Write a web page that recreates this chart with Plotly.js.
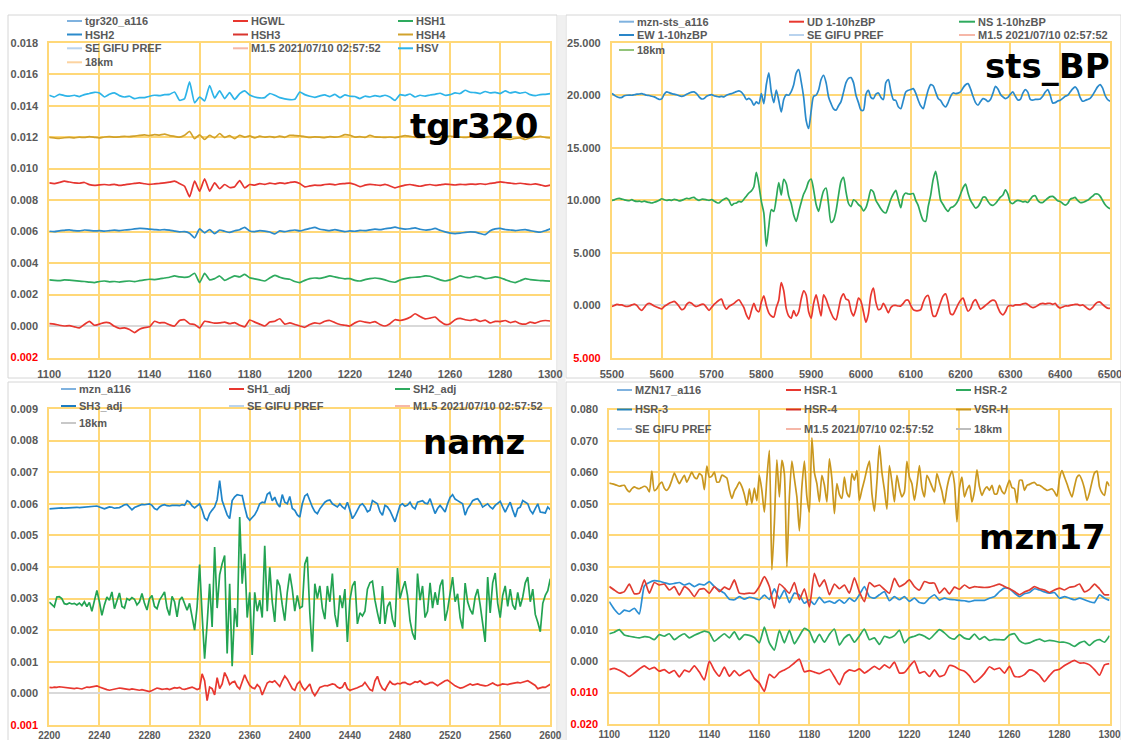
<!DOCTYPE html>
<html>
<head>
<meta charset="utf-8">
<script src="https://cdn.plot.ly/plotly-3.0.1.min.js"></script>
<style>html,body{margin:0;padding:0;background:#fff;}#chart{width:1121px;height:740px;}</style>
</head>
<body>
<div id="chart"></div>
<script>
// ---------------- DATA ----------------
// Panel 1: tgr320 (x from 1100, step 2)
const tlX0 = 1100, tlDx = 2;
const tlXTicks = [1100,1120,1140,1160,1180,1200,1220,1240,1260,1280,1300];
const tlXText = ['1100','1120','1140','1160','1180','1200','1220','1240','1260','1280','1300'];
const tlYTicks = [-0.002,0,0.002,0.004,0.006,0.008,0.010,0.012,0.014,0.016,0.018];
const tlYText = ['<span style="color:#FF0000">0.002</span>','0.000','0.002','0.004','0.006','0.008','0.010','0.012','0.014','0.016','0.018'];
const tlHSV = [0.01466,0.01455,0.01472,0.01464,0.0146,0.01466,0.01458,0.0147,0.01477,0.01485,
0.01481,0.01455,0.01472,0.01481,0.01464,0.01455,0.0146,0.01445,0.01451,0.01451,
0.0146,0.01466,0.01464,0.0147,0.01472,0.01487,0.01434,0.01445,0.01551,0.01419,
0.01455,0.0143,0.01528,0.01449,0.01494,0.01445,0.01483,0.0144,0.01477,0.01494,
0.01468,0.01455,0.01449,0.01451,0.01477,0.01466,0.01451,0.01443,0.01438,0.0144,
0.01487,0.0147,0.0146,0.01453,0.01462,0.01468,0.01458,0.01472,0.01451,0.01468,
0.0146,0.01458,0.01445,0.0146,0.01455,0.01464,0.01458,0.01466,0.01455,0.01434,
0.0147,0.01464,0.01474,0.01455,0.01466,0.0146,0.01468,0.01472,0.01479,0.01466,
0.0147,0.01481,0.01477,0.01498,0.01485,0.01483,0.01477,0.0149,0.01481,0.01485,
0.01477,0.01494,0.01481,0.01487,0.01479,0.01485,0.0147,0.01464,0.0147,0.01472,
0.01477];
const tlHSH4 = [0.01198,0.01195,0.01192,0.01196,0.01198,0.01195,0.012,0.01198,0.01203,0.01199,
0.01195,0.01201,0.01203,0.012,0.01202,0.01205,0.01203,0.01207,0.01211,0.01214,
0.0121,0.01216,0.01213,0.01219,0.0121,0.01205,0.012,0.01212,0.01236,0.0119,
0.01215,0.01185,0.01212,0.01195,0.01223,0.01198,0.0121,0.0119,0.01212,0.012,
0.01208,0.01195,0.01206,0.012,0.01204,0.01198,0.01207,0.01199,0.01212,0.0121,
0.01208,0.01203,0.01198,0.01202,0.012,0.01197,0.01203,0.012,0.01204,0.01216,
0.01212,0.012,0.01203,0.01198,0.01212,0.01202,0.012,0.01198,0.01201,0.01197,
0.01203,0.0121,0.01205,0.012,0.01196,0.012,0.01205,0.01202,0.01199,0.01203,
0.01207,0.01202,0.012,0.01198,0.01202,0.01205,0.012,0.01196,0.012,0.01203,
0.01198,0.0119,0.01186,0.01192,0.01195,0.01185,0.01196,0.012,0.01205,0.01198,
0.01195];
const tlHSH3 = [0.00909,0.00905,0.00912,0.0092,0.00915,0.0091,0.00907,0.00912,0.00898,0.00893,
0.00897,0.00899,0.00896,0.009,0.00893,0.00897,0.00902,0.00906,0.00909,0.00904,
0.009,0.00903,0.00906,0.0091,0.00914,0.0092,0.00905,0.00888,0.00821,0.0092,
0.00857,0.00935,0.00857,0.00909,0.00872,0.00899,0.0088,0.00885,0.00924,0.00878,
0.00899,0.00895,0.00905,0.009,0.00908,0.00903,0.0091,0.00905,0.00912,0.00916,
0.00905,0.00884,0.0089,0.00895,0.00893,0.00899,0.00902,0.00897,0.00903,0.00905,
0.00908,0.00899,0.00885,0.00895,0.009,0.00897,0.00893,0.009,0.0089,0.00878,
0.00887,0.00895,0.00899,0.00893,0.00888,0.00895,0.00899,0.00893,0.00897,0.00902,
0.00899,0.00896,0.009,0.00898,0.00902,0.009,0.00904,0.009,0.00906,0.0091,
0.00916,0.00912,0.00908,0.00904,0.00907,0.00903,0.00899,0.00903,0.00897,0.00889,
0.00895];
const tlHSH2 = [0.00602,0.006,0.00605,0.00608,0.00611,0.00606,0.00604,0.0061,0.00608,0.00604,
0.00606,0.00603,0.00606,0.00609,0.00606,0.0061,0.00612,0.00617,0.0062,0.00619,
0.00615,0.00613,0.0061,0.00613,0.00609,0.00603,0.00598,0.006,0.0059,0.0056,
0.00617,0.00592,0.00613,0.00587,0.0061,0.00602,0.00595,0.00605,0.00612,0.00627,
0.00604,0.006,0.00606,0.00603,0.00597,0.00585,0.00604,0.006,0.00606,0.0061,
0.00604,0.00612,0.0062,0.00627,0.00615,0.0061,0.00606,0.00612,0.00606,0.006,
0.00604,0.00602,0.00608,0.00606,0.00611,0.00615,0.00612,0.00618,0.00622,0.00628,
0.0062,0.00615,0.00618,0.00624,0.00615,0.0061,0.00612,0.0062,0.00608,0.00598,
0.0059,0.00587,0.0059,0.00595,0.00598,0.00596,0.00588,0.00581,0.00605,0.00617,
0.0062,0.00613,0.0061,0.00606,0.0061,0.00612,0.00606,0.006,0.00596,0.00605,
0.00617];
const tlHSH1 = [0.00293,0.0029,0.00288,0.00293,0.00291,0.00288,0.00285,0.00283,0.00279,0.00276,
0.00283,0.00286,0.00281,0.00283,0.00279,0.00284,0.00286,0.00282,0.00288,0.00293,
0.00297,0.00295,0.00299,0.00305,0.0031,0.00318,0.00312,0.00309,0.00315,0.00335,
0.00276,0.00335,0.00293,0.00301,0.00318,0.0029,0.00305,0.00318,0.00312,0.00328,
0.00307,0.003,0.00293,0.00286,0.00305,0.00322,0.0031,0.00301,0.00297,0.00283,
0.00276,0.0029,0.00301,0.00305,0.00303,0.0031,0.00318,0.00312,0.00305,0.003,
0.00301,0.0029,0.00286,0.00295,0.00301,0.00305,0.00301,0.00293,0.00283,0.00278,
0.00292,0.00301,0.00307,0.0031,0.00312,0.00318,0.00316,0.00305,0.00293,0.00286,
0.00293,0.00305,0.00318,0.0031,0.00307,0.00316,0.00312,0.00301,0.00305,0.00312,
0.00307,0.00295,0.00283,0.00276,0.00288,0.00301,0.00295,0.00291,0.00289,0.00287,
0.00285];
const tlHGWL = [0.00015,0.00012,0.00005,0,0.00003,-0.00005,-0.00012,0.0001,0.0003,0.00005,
0.00012,0.00022,0.0002,-0.00002,-0.00015,-0.00012,-0.00022,-0.00042,-0.0002,-0.0001,
-0.00005,0.0003,0.0002,0.00022,0.00008,0,0.00035,0.0004,0.00015,0.0001,
-0.00012,0.0003,0.00025,0.00018,0.0002,0.00025,0.00015,0.00022,0.00005,-0.00005,
0.00038,0.00025,0.00012,0,0.00025,0.0003,0.00046,0.00012,0.0002,0.0001,
0,-0.00008,0.0001,0.0002,0.00015,0.0003,0.00035,0.00022,0.0001,0.00005,
0,0.0002,0.00032,0.00025,0.0002,0.00028,0.0001,0,0.00015,0.0004,
0.00035,0.00042,0.00055,0.00078,0.0006,0.00045,0.0005,0.00057,0.0003,0.0001,
0.00015,0.0004,0.00048,0.0004,0.00035,0.00042,0.0003,0.00038,0.0002,0.0003,
0.00028,0.00035,0.00022,0.0003,0.00015,0.00012,0.00025,0.00018,0.0003,0.00035,
0.00032];

// Panel 2: sts_BP (x from 5500, step 5)
const trX0 = 5500, trDx = 5;
const trXTicks = [5500,5600,5700,5800,5900,6000,6100,6200,6300,6400,6500];
const trXText = ['5500','5600','5700','5800','5900','6000','6100','6200','6300','6400','6500'];
const trYTicks = [-5,0,5,10,15,20,25];
const trYText = ['<span style="color:#FF0000">5.000</span>','0.000','5.000','10.000','15.000','20.000','25.000'];
const trEW = [20.16,20.0,19.85,19.78,19.8,19.95,20.0,20.02,20.0,20.05,
20.1,20.12,20.16,20.08,20.0,19.98,19.9,19.85,19.72,19.6,
19.65,20.1,20.32,20.25,20.15,20.1,20.05,19.95,19.9,19.95,
20.1,20.2,20.3,20.32,20.15,19.85,19.65,19.7,19.9,20.0,
20.06,19.95,19.9,19.85,19.9,19.84,20.0,20.1,20.15,20.25,
20.35,20.41,20.3,20.0,19.59,19.7,19.5,19.05,19.37,19.2,
20.16,19.21,21.0,22.12,20.3,19.3,20.5,19.5,18.42,19.6,
20.05,20.0,20.35,21.0,22.1,22.44,21.3,19.8,17.6,16.84,
18.5,19.9,20.0,20.5,21.5,21.9,21.2,19.84,19.2,18.7,
18.58,19.0,19.4,20.3,21.2,21.6,21.68,21.2,20.0,19.3,
18.6,18.58,20.1,20.47,19.8,19.68,20.1,20.22,19.8,19.59,
21.2,21.49,20.4,19.59,19.5,18.9,18.73,19.5,20.3,20.47,
20.55,20.63,20.2,19.53,19.0,18.73,19.6,20.5,21.01,20.9,
20.3,19.7,19.5,19.1,18.89,19.3,19.9,20.22,20.15,20.2,
20.32,20.7,21.0,21.11,20.6,19.9,19.3,19.05,19.4,19.68,
19.6,19.4,19.6,20.2,20.85,20.6,20.1,19.84,19.68,19.8,
20.1,20.32,19.9,19.55,19.6,20.2,20.54,20.3,19.6,19.53,
19.6,19.6,19.65,19.9,20.3,20.54,20.0,19.27,19.3,19.45,
19.53,19.7,19.9,20.0,20.3,20.6,20.79,20.5,19.8,19.43,
19.5,19.6,19.7,20.0,20.4,20.8,21.01,20.7,20.0,19.6,
19.43];
const trNS = [10.0,10.05,10.15,10.19,10.12,10.05,10.0,9.98,10.06,9.95,
9.9,9.92,9.85,9.92,9.85,9.8,9.75,9.82,9.9,10.0,
10.15,10.06,10.0,10.05,10.0,10.1,10.05,9.95,10.0,10.1,
10.2,10.15,10.25,10.28,10.1,10.0,10.1,10.1,10.05,10.0,
10.06,9.95,9.8,9.75,9.95,10.1,10.22,10.0,9.53,9.7,
9.75,9.9,9.85,10.1,10.4,10.7,10.9,11.3,12.66,11.5,
9.9,8.8,5.63,7.5,9.11,8.95,10.2,11.7,10.5,12.0,
11.6,10.4,9.7,8.6,8.0,8.9,9.8,10.6,11.1,11.8,
12.03,11.0,9.6,8.96,10.0,10.9,11.17,9.6,7.9,8.1,
9.0,10.5,11.8,12.18,10.8,9.7,9.4,10.05,9.9,9.6,
9.4,9.0,9.3,10.1,11.0,10.8,10.0,9.6,9.2,8.9,
8.8,9.4,10.1,10.6,10.95,10.1,9.3,10.4,10.7,10.6,
10.6,10.65,10.0,9.5,8.7,8.1,8.0,9.4,10.5,12.0,
12.75,11.5,10.0,9.6,9.2,8.96,9.3,9.4,9.6,10.0,
10.6,11.2,11.55,10.7,10.0,9.6,9.27,9.4,9.8,10.3,
10.3,9.9,9.6,9.53,9.7,10.0,10.3,10.5,11.0,10.6,
9.8,9.7,9.9,10.0,9.95,9.85,9.9,9.8,10.1,10.4,
10.44,10.0,9.8,9.8,10.0,10.2,10.35,10.38,10.2,9.95,
9.9,9.7,9.55,9.7,10.1,10.2,10.28,10.0,9.8,9.8,
9.9,10.0,10.2,10.4,10.6,10.6,10.4,10.0,9.6,9.35,
9.21];
const trUD = [-0.1,0.0,0.1,0.06,0.05,-0.05,-0.1,-0.05,0.05,0.13,
0.0,-0.3,-0.47,-0.2,0.1,0.2,0.1,-0.05,-0.15,-0.25,
-0.33,-0.1,0.05,0.2,0.3,0.38,0.2,-0.1,-0.4,-0.3,
0.1,0.3,0.2,0.0,-0.1,0.0,0.1,0.1,-0.2,-0.47,
-0.2,0.1,0.3,0.5,0.6,0.0,-0.35,-0.1,0.05,0.2,
0.4,0.54,0.2,-0.2,-0.9,-1.3,-0.5,0.2,-0.4,-0.6,
0.3,0.92,0.0,-0.7,-1.0,-1.1,-0.2,0.5,2.18,1.4,
-0.3,-1.0,-1.2,-0.5,-1.0,-0.6,0.6,1.4,1.0,-0.6,
-1.2,0.2,1.0,0.0,-1.0,1.0,0.6,-0.1,-0.7,-1.2,
-1.36,-0.4,0.7,1.1,0.6,0.5,-0.5,-1.0,-0.3,0.7,
0.4,-0.6,-1.6,-0.8,1.0,1.65,0.3,-0.4,-0.3,0.2,
-0.2,-0.7,-0.2,0.0,0.0,-0.05,-0.05,0.2,0.5,0.5,
0.0,-0.4,-0.5,-0.5,-0.4,0.3,0.8,0.95,0.0,-1.0,
-1.0,-0.4,0.3,0.9,1.1,0.3,-0.8,-0.85,-0.4,0.1,
0.5,0.7,0.0,-0.55,-0.3,0.3,0.55,0.1,-0.35,-0.2,
0.0,0.2,0.4,0.5,0.4,-0.2,-0.7,-0.9,-0.6,-0.1,
0.0,-0.05,0.05,0.05,0.06,0.15,0.2,0.1,-0.1,-0.2,
-0.15,0.0,0.15,0.2,0.15,0.2,0.2,0.1,0.2,-0.1,
-0.25,-0.15,-0.05,-0.05,0.0,0.05,0.1,0.1,0.0,0.05,
-0.1,-0.3,-0.4,-0.2,0.1,0.3,0.32,0.1,-0.1,-0.25,
-0.28];

// Panel 3: namz (x from 2200, step 2)
const blX0 = 2200, blDx = 2;
const blXTicks = [2200,2240,2280,2320,2360,2400,2440,2480,2520,2560,2600];
const blXText = ['2200','2240','2280','2320','2360','2400','2440','2480','2520','2560','2600'];
const blYTicks = [-0.001,0,0.001,0.002,0.003,0.004,0.005,0.006,0.007,0.008,0.009];
const blYText = ['<span style="color:#FF0000">0.001</span>','0.000','0.001','0.002','0.003','0.004','0.005','0.006','0.007','0.008','0.009'];
const blSH2 = [0.00289,0.0028,0.00274,0.00305,0.00306,0.003,0.00284,0.00282,0.00286,0.00283,
0.00285,0.0028,0.00286,0.00278,0.0029,0.00275,0.00288,0.0026,0.00295,0.00326,
0.0029,0.00247,0.0028,0.00305,0.00295,0.00321,0.00268,0.0029,0.00318,0.00275,
0.0027,0.003,0.00295,0.00303,0.00298,0.0028,0.0029,0.00316,0.00285,0.00264,
0.003,0.0031,0.00275,0.00268,0.00295,0.00308,0.00321,0.0027,0.00247,0.00307,
0.0029,0.00242,0.00295,0.00305,0.00286,0.00263,0.00285,0.00245,0.002,0.00274,
0.00408,0.0025,0.0011,0.0022,0.00347,0.0021,0.00463,0.0027,0.00375,0.0041,
0.00436,0.00126,0.00347,0.00086,0.0027,0.0021,0.00558,0.00347,0.00442,0.0024,
0.0032,0.00122,0.0032,0.0026,0.00295,0.0024,0.00467,0.0026,0.00399,0.0029,
0.00226,0.0036,0.0034,0.0028,0.0023,0.0032,0.00379,0.0033,0.0026,0.0031,
0.0027,0.00275,0.0041,0.00432,0.00255,0.00132,0.00347,0.003,0.0034,0.0027,
0.00235,0.0034,0.0029,0.00379,0.0025,0.0021,0.0031,0.0027,0.0033,0.00163,
0.00295,0.0034,0.00355,0.0022,0.00255,0.00245,0.0026,0.0033,0.0035,0.00355,
0.00295,0.00255,0.0022,0.0034,0.0022,0.00275,0.0029,0.00235,0.0021,0.00397,
0.003,0.0033,0.00355,0.0031,0.0023,0.0019,0.0017,0.00379,0.00295,0.0034,
0.0024,0.0026,0.0035,0.0027,0.0032,0.0028,0.0034,0.0036,0.0023,0.00265,
0.0031,0.00368,0.0029,0.00315,0.0024,0.00205,0.00349,0.0029,0.00265,0.0025,
0.00305,0.0033,0.0028,0.0022,0.00163,0.00368,0.00255,0.0035,0.00381,0.00285,
0.0024,0.0031,0.0034,0.00275,0.0033,0.0028,0.00265,0.0032,0.00275,0.00305,
0.0035,0.00368,0.0029,0.0033,0.0025,0.00225,0.00195,0.00285,0.0031,0.00325,
0.00363];
const blSH3 = [0.00584,0.00585,0.00586,0.00585,0.00586,0.00587,0.00586,0.00587,0.00588,0.005875,
0.00588,0.00589,0.00588,0.00589,0.0059,0.00589,0.005896,0.00591,0.00592,0.00593,
0.0059,0.00587,0.00584,0.00587,0.0059,0.00589,0.00586,0.00587,0.00588,0.00592,
0.00597,0.00598,0.0059,0.00581,0.00588,0.00592,0.00595,0.00598,0.00597,0.00599,
0.006,0.00595,0.00585,0.00581,0.0059,0.00595,0.00597,0.00594,0.00593,0.00595,
0.00596,0.00595,0.00594,0.00597,0.00595,0.0061,0.00605,0.00593,0.00587,0.00595,
0.006,0.00581,0.00555,0.00548,0.00569,0.0058,0.0059,0.00613,0.00673,0.0061,
0.00585,0.00565,0.00553,0.0061,0.00622,0.00629,0.00627,0.00626,0.0059,0.00558,
0.00548,0.00555,0.00565,0.0058,0.006,0.00605,0.00603,0.0063,0.00636,0.0061,
0.00621,0.006,0.0059,0.00629,0.00605,0.006,0.00623,0.00585,0.00579,0.00565,
0.00558,0.006,0.00625,0.00631,0.0061,0.0059,0.00575,0.00569,0.00584,0.00595,
0.00605,0.0061,0.00612,0.006,0.00595,0.0059,0.006,0.0059,0.00584,0.00605,
0.0058,0.00553,0.00565,0.00581,0.00595,0.006,0.0059,0.00575,0.0058,0.0061,
0.00605,0.006,0.00575,0.00564,0.00595,0.0059,0.00578,0.0056,0.00543,0.00569,
0.00595,0.006,0.00592,0.00596,0.00605,0.0059,0.00584,0.00605,0.00608,0.0061,
0.00602,0.006,0.00616,0.0059,0.00569,0.00585,0.00595,0.00585,0.00574,0.006,
0.0062,0.00629,0.00615,0.0061,0.00605,0.006,0.00564,0.00585,0.00596,0.0061,
0.00614,0.00616,0.00605,0.005896,0.00595,0.006,0.0059,0.00584,0.00595,0.00602,
0.00608,0.0059,0.00574,0.0059,0.00605,0.0058,0.00558,0.00585,0.005896,0.0061,
0.00605,0.006,0.00579,0.00569,0.00585,0.006,0.00574,0.00572,0.00571,0.0059,
0.00581];
const blSH1 = [0.00019,0.00018,0.0002,0.00019,0.00021,0.0002,0.00018,0.00017,0.00015,0.00016,
0.00015,0.00017,0.00015,0.00014,0.00017,0.0002,0.00019,0.00021,0.00023,0.00024,
0.0002,0.00017,0.00013,0.00012,0.0001,0.00012,0.00014,0.00016,0.00017,0.00016,
0.00014,0.00013,0.00012,0.00014,0.00012,0.00011,0.0001,0.00012,0.0001,0.00008,
0.00006,0.00009,0.00014,0.00017,0.00015,0.00013,0.00014,0.00015,0.00012,0.00016,
0.00018,0.00017,0.00019,0.00014,0.00013,0.00015,0.00018,0.0002,0.00016,0.00012,
0.00015,0.00062,0.0004,-0.00023,0.0002,0.00015,-0.00005,0.0005,0.00015,0.0003,
0.00066,0.0005,0.00028,0.00035,0.00038,0.00022,0.00014,0.00035,0.00059,0.0004,
0.00025,0.00018,0.00015,0.00028,0.0002,-0.00005,0.00015,0.00033,0.00038,0.00035,
0.0004,0.0003,0.00022,0.0004,0.00055,0.00045,0.0003,0.00015,0.0001,0.0003,
0.00038,0.0002,0.0001,0.0002,0.0003,0.00005,-0.00007,0.00005,0.00019,0.00022,
0.00025,0.00024,0.00026,0.0003,0.00028,0.0002,0.00016,0.0002,0.00035,0.00015,
0.0001,0.00012,0.00014,0.00018,0.00022,0.00025,0.00035,0.00025,0.00012,0.00008,
0.0004,0.00054,0.0003,0.00015,0.0001,0.00025,0.00038,0.0003,0.00028,0.00032,
0.0003,0.00034,0.00035,0.0003,0.00028,0.00032,0.00037,0.00035,0.0004,0.00033,
0.00028,0.0003,0.00034,0.00035,0.00028,0.00024,0.0003,0.00035,0.0004,0.00042,
0.00035,0.00028,0.00024,0.0002,0.00017,0.00018,0.00022,0.00028,0.0003,0.00026,
0.00028,0.0003,0.00027,0.00025,0.00024,0.00025,0.0003,0.00033,0.00028,0.00025,
0.00027,0.0003,0.00029,0.00028,0.0003,0.00032,0.00034,0.00035,0.00033,0.00036,
0.00038,0.0004,0.00035,0.0003,0.00025,0.00015,0.00018,0.0002,0.00019,0.00025,
0.00029];

// Panel 4: mzn17 (x from 1100; VSR-H step 1, others step 2)
const brX0 = 1100, brDxFine = 1, brDx = 2;
const brXTicks = [1100,1120,1140,1160,1180,1200,1220,1240,1260,1280,1300];
const brXText = ['1100','1120','1140','1160','1180','1200','1220','1240','1260','1280','1300'];
const brYTicks = [-0.02,-0.01,0,0.01,0.02,0.03,0.04,0.05,0.06,0.07,0.08];
const brYText = ['<span style="color:#FF0000">0.020</span>','<span style="color:#FF0000">0.010</span>','0.000','0.010','0.020','0.030','0.040','0.050','0.060','0.070','0.080'];
const brVSRH = [0.0566,0.0564,0.0562,0.0559,0.0556,0.0558,0.0559,0.0546,0.0538,0.0548,
0.0554,0.055,0.0548,0.0552,0.0556,0.0552,0.0538,0.0604,0.0542,0.0548,
0.0562,0.0569,0.055,0.0543,0.0554,0.0575,0.0598,0.058,0.0564,0.0578,
0.0591,0.0569,0.0585,0.0601,0.0585,0.058,0.0596,0.059,0.0545,0.062,
0.0585,0.0588,0.0601,0.0569,0.057,0.0591,0.0588,0.0582,0.0545,0.0517,
0.054,0.0554,0.0569,0.0555,0.053,0.0496,0.0548,0.0501,0.055,0.051,
0.0591,0.0543,0.0474,0.058,0.067,0.029,0.044,0.064,0.0522,0.0638,
0.0596,0.030,0.0522,0.0636,0.058,0.0522,0.0414,0.0554,0.0636,0.0522,
0.0474,0.071,0.060,0.0564,0.0506,0.0591,0.056,0.0506,0.0643,0.058,
0.0469,0.0564,0.053,0.0517,0.0585,0.0535,0.0522,0.0596,0.0575,0.0606,
0.0511,0.0545,0.0575,0.061,0.0636,0.0532,0.0477,0.057,0.0685,0.060,
0.0545,0.0483,0.0622,0.057,0.0506,0.0591,0.055,0.0522,0.0538,0.0635,
0.0585,0.0564,0.0511,0.056,0.0622,0.055,0.0522,0.0591,0.0575,0.0555,
0.0538,0.0596,0.0569,0.054,0.0501,0.055,0.0585,0.0604,0.0564,0.0443,
0.055,0.0585,0.0522,0.0545,0.0559,0.0506,0.054,0.0608,0.0555,0.0527,
0.0545,0.0554,0.0543,0.0559,0.0532,0.0532,0.0559,0.054,0.0532,0.0555,
0.0575,0.0552,0.0548,0.0503,0.0575,0.0575,0.0543,0.0559,0.0562,0.0566,
0.0568,0.056,0.0559,0.0554,0.0548,0.0543,0.0545,0.0548,0.0538,0.0524,
0.058,0.0606,0.0585,0.0564,0.054,0.0522,0.0555,0.0585,0.0591,0.0575,
0.0548,0.0511,0.0535,0.057,0.0598,0.0604,0.0554,0.0535,0.0527,0.057,
0.0556];
const brHSR1 = [0.0237,0.0226,0.0216,0.0221,0.0245,0.0214,0.0216,0.0258,0.0216,0.025,
0.0242,0.0245,0.0226,0.0237,0.021,0.0237,0.0226,0.0205,0.0228,0.023,
0.0216,0.0237,0.0221,0.0235,0.0228,0.0258,0.0216,0.0214,0.0216,0.0216,
0.0237,0.0269,0.0237,0.0168,0.0245,0.0232,0.0216,0.025,0.0195,0.023,
0.0172,0.0279,0.0237,0.0258,0.0211,0.0245,0.023,0.0242,0.0216,0.0265,
0.022,0.0189,0.025,0.0237,0.0242,0.0228,0.0216,0.0263,0.0237,0.0245,
0.0258,0.0237,0.0226,0.0253,0.0248,0.0248,0.0216,0.0232,0.0214,0.0235,
0.02285,0.0242,0.0232,0.0237,0.0235,0.0234,0.0235,0.024,0.0245,0.0237,
0.023,0.0221,0.0211,0.022,0.0226,0.0237,0.023,0.0226,0.0218,0.0226,
0.0232,0.0226,0.0235,0.0237,0.0245,0.022,0.0228,0.0245,0.023,0.0211,
0.0211];
const brHSR3 = [0.0189,0.0165,0.0149,0.0162,0.0158,0.0168,0.015,0.0239,0.025,0.0256,
0.0254,0.0249,0.0245,0.0247,0.025,0.0242,0.0247,0.0237,0.0245,0.0242,
0.0253,0.0237,0.0226,0.0216,0.0197,0.0195,0.0205,0.0197,0.0203,0.020,
0.0195,0.021,0.0196,0.023,0.0198,0.0226,0.0186,0.0216,0.021,0.0184,
0.0195,0.018,0.0203,0.0186,0.0191,0.0184,0.0195,0.0184,0.020,0.019,
0.0211,0.0237,0.0205,0.020,0.0211,0.0221,0.0192,0.0205,0.0195,0.0205,
0.019,0.020,0.0186,0.0184,0.020,0.0211,0.0194,0.020,0.0196,0.0195,
0.0193,0.0192,0.0189,0.0193,0.0193,0.0193,0.020,0.0205,0.0221,0.0232,
0.023,0.0216,0.0205,0.0214,0.0218,0.023,0.0226,0.022,0.0216,0.0218,
0.020,0.0205,0.020,0.0195,0.020,0.0195,0.0189,0.0186,0.0211,0.020,
0.0193];
const brHSR2 = [0.0087,0.0092,0.010,0.0083,0.0079,0.0076,0.0074,0.0078,0.0076,0.0068,
0.0084,0.0079,0.0087,0.0068,0.0079,0.0087,0.0074,0.0082,0.0089,0.0095,
0.009,0.0063,0.0075,0.0087,0.0074,0.0093,0.0068,0.0084,0.0082,0.0075,
0.0058,0.0108,0.0058,0.0035,0.0098,0.0058,0.0098,0.0055,0.008,0.0104,
0.0095,0.0059,0.0085,0.006,0.0085,0.0102,0.0051,0.0074,0.0084,0.006,
0.008,0.0102,0.0068,0.0074,0.0053,0.0079,0.0074,0.0081,0.0098,0.0058,
0.0074,0.0079,0.0085,0.0079,0.007,0.0085,0.010,0.009,0.0075,0.007,
0.0084,0.0073,0.007,0.0086,0.0069,0.0078,0.0066,0.0069,0.0068,0.0068,
0.0083,0.0087,0.0065,0.0056,0.0058,0.0065,0.007,0.0063,0.0066,0.0064,
0.006,0.006,0.0055,0.0047,0.0058,0.0063,0.005,0.0063,0.0068,0.006,
0.0081];
const brHSR4 = [-0.0027,-0.0023,-0.0029,-0.0038,-0.0049,-0.0038,-0.0025,-0.0015,-0.0026,-0.002,
-0.0032,-0.0027,-0.0038,-0.003,-0.005,-0.0029,-0.0034,-0.0015,-0.0035,-0.006,
0.0,-0.0029,-0.0048,-0.0019,-0.0048,-0.003,-0.0046,-0.0036,-0.0029,-0.0055,
-0.007,-0.0096,-0.0042,-0.0053,-0.0036,-0.0028,-0.0019,-0.0006,0.0006,-0.0034,
-0.003,-0.0035,-0.004,-0.0032,-0.0026,-0.005,-0.0075,-0.004,-0.0028,-0.0032,
-0.0025,-0.0038,-0.0028,-0.0017,-0.0026,-0.0012,-0.0022,-0.0003,-0.0038,-0.0036,
-0.0017,0.0,-0.0038,-0.0033,-0.0049,-0.0028,-0.0049,-0.0044,-0.0014,-0.0017,
-0.0027,-0.0032,-0.0047,-0.0068,-0.0056,-0.0039,-0.0018,-0.0027,-0.0022,-0.0038,
-0.0017,-0.0048,-0.005,-0.0043,-0.0028,-0.0032,-0.0045,-0.0065,-0.0046,-0.003,
-0.0026,-0.0014,-0.0005,0.0002,-0.0006,-0.0006,-0.0012,-0.0027,-0.0045,-0.0012,
-0.0008];

// Legend entries and station titles
const tlNames = ['tgr320_a116','HGWL','HSH1','HSH2','HSH3','HSH4','SE GIFU PREF','M1.5 2021/07/10 02:57:52','HSV','18km'];
const trNames = ['mzn-sts_a116','UD 1-10hzBP','NS 1-10hzBP','EW 1-10hzBP','SE GIFU PREF','M1.5 2021/07/10 02:57:52','18km'];
const blNames = ['mzn_a116','SH1_adj','SH2_adj','SH3_adj','SE GIFU PREF','M1.5 2021/07/10 02:57:52','18km'];
const brNames = ['MZN17_a116','HSR-1','HSR-2','HSR-3','HSR-4','VSR-H','SE GIFU PREF','M1.5 2021/07/10 02:57:52','18km'];
const stationTitles = ['tgr320','sts_BP','namz','mzn17'];

// ---------------- STYLE ----------------
const W = 1121, H = 740;
const RED = '#E8372F', GREEN = '#2EAA5E', BLUE = '#2B8ACB', CYAN = '#2DB4E8', GOLD = '#D1A22C';
const LBLUE = '#7FB2DF', PALE = '#B9D3EE', SALMON = '#F6B7A8', ORANGE = '#FCD3A0';
const GRID = '#FFD878';
const FONT = 'Liberation Sans, Arial, sans-serif';

const tlColors = [LBLUE, RED, GREEN, BLUE, '#D9342E', GOLD, PALE, SALMON, CYAN, ORANGE];
const trColors = [LBLUE, RED, GREEN, '#2A86C8', PALE, SALMON, '#92C47A'];
const blColors = [LBLUE, RED, GREEN, '#1D7CC2', PALE, SALMON, '#C8C8C8'];
const brColors = [LBLUE, RED, GREEN, '#2081B8', '#D62E27', '#C9971F', PALE, SALMON, '#BDBDBD'];

const px = x => x / W;
const py = y => 1 - y / H;

function line(y, x0, dx, color, xa, ya, shape, sm) {
  return {type:'scatter', mode:'lines', y:y, x0:x0, dx:dx, xaxis:xa, yaxis:ya,
    line:{color:color, width:1.7, shape:shape||'linear', smoothing:sm||0.6},
    showlegend:false, hoverinfo:'skip'};
}

const traces = [
  line(tlHSV, tlX0, tlDx, CYAN, 'x', 'y', 'spline', 0.5),
  line(tlHSH4, tlX0, tlDx, GOLD, 'x', 'y', 'spline', 0.5),
  line(tlHSH3, tlX0, tlDx, '#E53530', 'x', 'y', 'spline', 0.5),
  line(tlHSH2, tlX0, tlDx, BLUE, 'x', 'y', 'spline', 0.5),
  line(tlHSH1, tlX0, tlDx, GREEN, 'x', 'y', 'spline', 0.5),
  line(tlHGWL, tlX0, tlDx, RED, 'x', 'y', 'spline', 0.5),
  line(trEW, trX0, trDx, '#2A8ACB', 'x2', 'y2', 'spline', 0.7),
  line(trNS, trX0, trDx, '#2DA85A', 'x2', 'y2', 'spline', 0.7),
  line(trUD, trX0, trDx, RED, 'x2', 'y2', 'spline', 0.7),
  line(blSH3, blX0, blDx, '#1F84C8', 'x3', 'y3'),
  line(blSH2, blX0, blDx, '#22A352', 'x3', 'y3'),
  line(blSH1, blX0, blDx, RED, 'x3', 'y3'),
  line(brVSRH, brX0, brDxFine, '#C9971F', 'x4', 'y4', 'spline', 0.6),
  line(brHSR3, brX0, brDx, '#2B8FD4', 'x4', 'y4', 'spline', 0.5),
  line(brHSR1, brX0, brDx, '#E03C31', 'x4', 'y4', 'spline', 0.5),
  line(brHSR2, brX0, brDx, GREEN, 'x4', 'y4', 'spline', 0.5),
  line(brHSR4, brX0, brDx, '#EA3530', 'x4', 'y4', 'spline', 0.5)
];

function axis(domain, range, vals, text, anchor, isY, standoff, fsize) {
  return {domain:domain, range:range, tickmode:'array', tickvals:vals, ticktext:text,
    showgrid:true, gridcolor:GRID, gridwidth:2, showline:true, linecolor:GRID, linewidth:2,
    mirror:true, ticks:'', zeroline:isY, zerolinecolor:'#D9D9D9', zerolinewidth:2,
    tickfont:{family:FONT, size:fsize||11, color:'#595959', weight:'bold'},
    ticklabelstandoff:standoff, ticklabeloverflow:'allow', anchor:anchor, fixedrange:true};
}

const shapes = [];
const annotations = [];

// panel frames
[[8,15,557,378],[566,15,1121,378],[8,382,557,742],[566,382,1121,742]].forEach(r => {
  shapes.push({type:'rect', xref:'paper', yref:'paper', layer:'below',
    x0:px(r[0]), x1:px(r[2]), y0:py(r[3]), y1:py(r[1]),
    fillcolor:'#FFFFFF', line:{color:'#D6D6D6', width:1}});
});
shapes.push({type:'rect', xref:'paper', yref:'paper', layer:'below',
  x0:px(557.5), x1:px(565.5), y0:0, y1:py(15), fillcolor:'#F0F0F0', line:{width:0}});

function legend(names, colors, lineX, textX, rows) {
  names.forEach((n, k) => {
    const c = k % 3, r = Math.floor(k / 3);
    const yy = py(rows[r]);
    shapes.push({type:'line', xref:'paper', yref:'paper', x0:px(lineX[c][0]), x1:px(lineX[c][1]),
      y0:yy, y1:yy, line:{color:colors[k], width:2}});
    annotations.push({xref:'paper', yref:'paper', x:px(textX[c]), y:yy, xanchor:'left', yanchor:'middle',
      showarrow:false, text:'<b>' + n + '</b>', font:{family:FONT, size:11, color:'#595959'}});
  });
}
legend(tlNames, tlColors, [[67,82],[233,248],[398,413]], [83,249,414], [21,34.5,48.3,62.3]);
legend(trNames, trColors, [[619,634],[789,804],[959,975]], [635,805,976], [21.7,35,50]);
legend(blNames, blColors, [[61,76],[229,244],[395,410]], [77,245,411], [389,406,423]);
legend(brNames, brColors, [[617,632],[786,801],[956,971]], [633,802,972], [390,409.5,429]);

// station titles
[[540,126],[1112,66],[527,442],[1108,537]].forEach((p, i) => {
  annotations.push({xref:'paper', yref:'paper', x:px(p[0]), y:py(p[1]), xanchor:'right', yanchor:'middle',
    showarrow:false, text:'<b>' + stationTitles[i] + '</b>',
    font:{family:'DejaVu Sans, sans-serif', size:34, color:'#000000'}});
});

const layout = {
  width:W, height:H, margin:{l:0, r:0, t:0, b:0}, paper_bgcolor:'#FFFFFF', plot_bgcolor:'#FFFFFF',
  showlegend:false, hovermode:false,
  xaxis: axis([px(49.3), px(550.3)], [1100,1300], tlXTicks, tlXText, 'y', false, 5),
  yaxis: axis([py(357.5), py(42.7)], [-0.002,0.018], tlYTicks, tlYText, 'x', true, 7),
  xaxis2: axis([px(611.9), px(1110)], [5500,6500], trXTicks, trXText, 'y2', false, 5),
  yaxis2: axis([py(358), py(42.7)], [-5,25], trYTicks, trYText, 'x2', true, 7),
  xaxis3: axis([px(49.3), px(550.3)], [2200,2600], blXTicks, blXText, 'y3', false, 0, 10),
  yaxis3: axis([py(725), py(409)], [-0.001,0.009], blYTicks, blYText, 'x3', true, 7),
  xaxis4: axis([px(609.3), px(1109.5)], [1100,1300], brXTicks, brXText, 'y4', false, 0, 10),
  yaxis4: axis([py(724), py(409.5)], [-0.02,0.08], brYTicks, brYText, 'x4', true, 7),
  shapes:shapes, annotations:annotations
};

Plotly.newPlot('chart', traces, layout, {staticPlot:true, displayModeBar:false});
</script>
</body>
</html>
